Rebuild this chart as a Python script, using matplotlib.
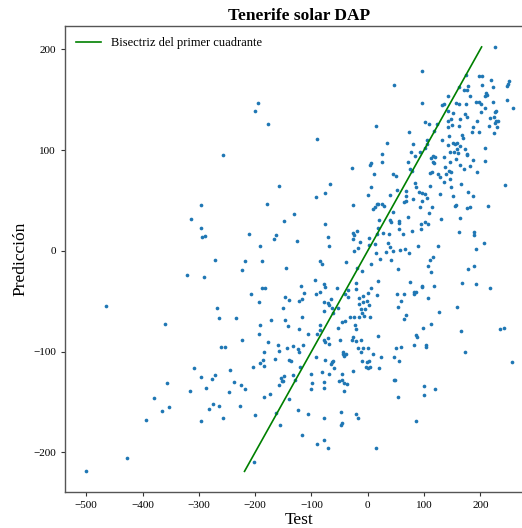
import matplotlib
matplotlib.use("Agg")
import matplotlib.pyplot as plt
import numpy as np

plt.rcParams['font.family'] = ['Liberation Serif', 'DejaVu Serif']
plt.rcParams['mathtext.fontset'] = 'stix'

title = "Tenerife solar DAP"
xlabel = "Test"
ylabel = "Predicción"
legend_label = "Bisectriz del primer cuadrante"
xticks = [-500, -400, -300, -200, -100, 0, 100, 200]
yticks = [-200, -100, 0, 100, 200]

# (test, prediction) pairs, grouped by region
pts_upper_left = [
    (-194.3, 147.0), (-200.8, 138.4), (-177.2, 125.5), (-90.7, 110.9), (-257.1, 94.7), (-27.3, 81.8),
]
pts_upper_right = [
    (225.4, 202.3), (96.9, 178.8), (46.0, 164.9), (174.5, 174.5), (198.2, 173.5), (203.5, 173.8),
    (218.3, 169.8), (250.9, 168.5), (249.1, 165.9), (246.8, 163.9), (161.5, 162.6), (177.5, 163.5),
    (203.5, 164.2), (221.9, 162.9), (171.6, 159.6), (175.7, 159.2), (142.5, 153.9), (181.6, 153.3),
    (210.0, 156.3), (208.3, 153.3), (211.8, 154.6), (248.0, 149.3), (96.9, 146.7), (132.5, 144.7),
    (135.4, 145.7), (156.8, 146.7), (161.5, 145.3), (174.5, 145.7), (192.9, 147.7), (198.2, 147.3),
    (200.6, 145.3), (221.9, 147.3), (258.0, 141.7), (208.9, 141.4), (142.5, 138.7), (152.0, 136.7),
    (201.8, 137.4), (228.4, 139.1), (225.4, 138.1), (173.3, 135.4), (176.3, 132.8), (148.5, 131.1),
    (216.6, 132.1), (223.7, 133.1), (141.9, 129.1), (164.5, 130.5), (194.7, 128.8), (227.2, 128.5),
    (230.8, 129.1), (226.0, 127.1), (101.1, 128.1), (109.4, 125.5), (122.4, 126.1), (149.7, 125.2),
    (143.1, 123.2), (162.7, 123.8), (187.0, 123.2), (216.0, 124.2), (229.6, 122.5), (14.0, 123.8),
    (117.1, 118.9), (185.8, 117.9), (198.2, 117.5), (223.7, 116.9), (73.8, 117.5), (143.7, 113.9),
    (168.0, 114.9), (169.8, 111.6), (132.5, 109.9), (105.8, 109.6), (105.2, 106.0), (33.6, 106.6),
    (81.0, 106.3), (151.4, 106.6), (155.0, 106.3), (158.5, 107.3), (142.5, 105.0), (163.9, 104.0),
    (208.9, 101.7), (101.1, 102.3), (172.7, 101.0), (157.9, 101.0), (146.7, 98.0), (153.2, 98.4),
    (159.7, 97.0), (76.2, 97.7), (92.8, 97.7), (176.3, 96.4), (176.9, 95.4), (25.9, 96.0),
    (83.9, 94.1), (115.3, 94.4), (118.9, 92.7), (111.7, 91.7), (134.8, 92.7), (156.8, 91.1),
    (187.5, 90.4), (208.9, 89.4), (25.9, 87.8), (72.1, 87.8), (115.3, 88.4), (117.7, 87.1),
    (146.7, 88.1), (5.2, 87.4), (4.6, 85.1), (163.9, 85.1), (181.6, 83.8), (137.2, 83.5),
    (75.0, 81.1), (79.2, 79.5), (171.0, 80.8), (11.7, 76.5), (44.2, 76.5), (50.2, 74.2),
    (114.1, 77.8), (111.2, 77.2), (125.4, 76.5), (143.7, 79.2), (147.3, 78.2), (193.5, 77.8),
    (128.3, 73.5), (139.6, 75.9), (146.1, 71.6),
]
pts_mid_left = [
    (-295.6, 45.7), (-314.0, 31.8), (-295.6, 22.2), (-294.4, 13.3), (-289.7, 14.6),
    (-320.5, -24.1), (-290.9, -26.4), (-465.0, -54.9), (-359.6, -72.7),
]
pts_mid_center = [
    (-157.0, 64.6), (-67.6, 66.2), (-92.5, 53.7), (-75.9, 57.6), (-178.3, 46.4), (-26.7, 45.7),
    (-131.6, 36.1), (-148.7, 29.5), (-75.9, 26.9), (-210.9, 16.9), (-162.4, 15.9), (-165.9, 11.3),
    (-125.6, 9.6), (-70.0, 13.9), (-68.8, 5.0), (-26.7, 17.3), (-24.4, 15.6), (-19.1, 19.2),
    (-26.7, 11.3), (-17.9, 3.0), (-24.4, -0.6), (-191.4, 5.0), (-271.9, -9.5), (-218.0, -9.9),
    (-188.4, -10.5), (-223.9, -19.1), (-145.2, -17.5), (-84.2, -10.2), (-81.2, -13.2), (-38.6, -11.2),
    (-18.5, -16.8), (-94.3, -29.4), (-118.0, -35.0), (-77.7, -33.4), (-76.5, -36.0), (-188.4, -37.3),
    (-182.5, -37.3), (-85.4, -41.3), (-92.5, -43.3), (-54.0, -36.7), (-21.4, -32.4), (-35.6, -39.0),
    (-20.8, -37.7), (-206.8, -42.6), (-113.2, -42.3), (-41.0, -43.3), (-146.4, -46.3), (-139.8, -48.6),
    (-116.8, -47.6), (-122.7, -50.2), (-64.6, -47.9), (-35.6, -46.3), (-15.5, -47.3), (-193.8, -50.9),
    (-77.1, -50.9), (-71.2, -52.2), (-68.2, -54.2), (-64.0, -56.5), (-52.8, -56.5), (-16.1, -52.9),
    (-267.8, -56.5), (-149.9, -56.5), (-77.1, -59.8), (-264.8, -66.5), (-234.6, -67.1), (-171.8, -69.1),
    (-147.5, -69.1), (-116.2, -66.1), (-61.1, -61.5), (-41.0, -69.4), (-45.1, -71.1), (-32.2, -65.5),
    (-24.4, -66.1), (-16.1, -66.1), (-192.0, -74.1), (-142.2, -75.1), (-122.7, -77.7), (-84.2, -74.1),
    (-84.8, -78.4), (-52.2, -76.4), (-22.6, -74.1), (-21.4, -78.0), (-193.8, -82.7), (-106.7, -82.3),
    (-89.5, -83.0),
]
pts_mid_right = [
    (5.2, 63.6), (83.3, 66.9), (134.8, 68.5), (110.6, 64.6), (147.9, 63.3), (165.0, 66.2),
    (243.2, 65.6), (-0.2, 55.0), (40.1, 55.6), (51.3, 60.3), (67.9, 59.3), (67.9, 54.3),
    (85.7, 62.9), (91.6, 58.3), (96.9, 57.0), (101.1, 56.3), (81.0, 51.7), (68.5, 49.7),
    (63.8, 48.4), (96.4, 49.0), (104.6, 52.0), (127.7, 56.0), (152.0, 54.6), (177.5, 58.3),
    (187.5, 54.3), (18.8, 46.7), (8.7, 41.1), (12.8, 43.7), (17.0, 46.0), (24.7, 46.0),
    (28.8, 44.1), (92.8, 43.4), (113.5, 43.7), (154.4, 44.1), (156.8, 45.0), (176.9, 42.1),
    (181.6, 43.7), (213.0, 44.7), (45.4, 38.4), (109.4, 37.4), (20.0, 30.5), (40.1, 30.8),
    (41.9, 28.5), (56.1, 29.5), (55.5, 27.5), (72.1, 33.8), (130.1, 31.8), (164.5, 32.8),
    (95.2, 26.9), (101.7, 28.2), (107.6, 26.5), (18.8, 22.9), (55.5, 21.9), (94.6, 21.2),
    (78.6, 19.9), (27.1, 17.9), (37.7, 16.3), (63.2, 16.6), (161.5, 18.2), (188.1, 18.2),
    (188.7, 15.9), (16.4, 16.3), (-13.8, 9.0), (2.8, 12.9), (1.6, 6.0), (12.3, 6.7),
    (35.4, 8.0), (40.1, 4.0), (88.6, 4.3), (124.8, 5.0), (206.5, 8.0), (192.9, 1.7),
    (14.0, -2.3), (32.4, -1.6), (45.4, -0.6), (57.3, 0.4), (65.6, 1.7), (73.8, -2.3),
    (22.3, -7.9), (41.9, -9.5), (110.0, -8.9), (116.5, -6.6), (6.3, -13.5), (107.0, -14.8),
    (188.7, -14.8), (53.7, -18.5), (111.7, -21.5), (177.5, -18.5), (-10.8, -19.8), (18.2, -30.4),
    (75.0, -31.1), (166.8, -31.7), (192.9, -33.0), (5.7, -36.7), (95.8, -35.0), (96.3, -36.3),
    (117.7, -35.4), (217.2, -37.0), (82.1, -40.7), (85.7, -40.7), (82.1, -43.3), (52.5, -43.3),
    (63.8, -43.0), (17.0, -44.0), (-0.2, -41.6), (-7.9, -45.0), (106.4, -46.6), (-0.8, -49.6),
    (-7.9, -50.9), (2.2, -54.2), (59.0, -49.9), (53.1, -55.5), (-12.6, -57.5), (-4.3, -58.2),
    (-10.8, -62.2), (-7.3, -64.8), (4.6, -65.8), (157.9, -55.5), (127.1, -61.2), (67.9, -63.5),
    (63.8, -67.5), (112.9, -72.4), (98.7, -76.7), (165.0, -79.7), (234.9, -78.0), (242.0, -77.0),
]
pts_low_left = [
    (-309.2, -116.0), (-296.8, -125.3), (-356.0, -130.9), (-316.3, -139.5), (-287.9, -136.2),
    (-379.7, -145.8), (-353.1, -154.7), (-364.9, -158.7), (-282.0, -156.7), (-393.9, -168.3),
    (-296.8, -169.0), (-427.1, -205.7), (-500.5, -218.9),
]
pts_low_center = [
    (-223.9, -88.9), (-177.2, -90.9), (-260.7, -95.8), (-254.1, -95.2), (-184.9, -100.1),
    (-159.4, -93.2), (-158.2, -99.2), (-142.8, -96.8), (-132.2, -94.9), (-123.9, -97.8),
    (-121.5, -100.1), (-115.0, -93.5), (-186.0, -108.4), (-190.8, -111.7), (-183.7, -114.4),
    (-165.3, -107.8), (-204.4, -115.0), (-139.3, -108.7), (-135.7, -109.4), (-120.9, -115.7),
    (-244.7, -118.0), (-271.3, -123.6), (-277.2, -126.9), (-149.3, -124.0), (-133.3, -123.3),
    (-153.5, -126.6), (-152.9, -128.9), (-149.9, -129.3), (-128.6, -128.3), (-237.0, -130.6),
    (-225.7, -132.9), (-157.0, -133.2), (-218.0, -137.2), (-246.4, -139.9), (-173.0, -142.5),
    (-183.7, -145.1), (-140.4, -147.1), (-274.9, -152.4), (-264.2, -154.4), (-227.5, -154.4),
    (-257.1, -166.0), (-200.8, -163.0), (-163.0, -161.0), (-124.5, -157.7), (-155.8, -172.9),
    (-117.4, -182.5), (-202.6, -209.3),
    (-91.9, -105.1), (-75.9, -108.7), (-64.0, -110.1), (-61.7, -109.1), (-60.5, -116.7),
    (-65.8, -112.7), (-80.6, -120.3), (-100.2, -122.3), (-68.8, -122.3), (-46.3, -122.0),
    (-25.6, -119.7), (-51.0, -129.3), (-46.3, -128.3), (-42.7, -131.6), (-36.2, -132.2),
    (-77.1, -129.9), (-98.4, -130.9), (-100.2, -137.2), (-77.7, -135.9), (-42.1, -139.2),
    (-77.1, -88.6), (-76.5, -90.9), (-71.2, -86.9), (-68.2, -92.9), (-49.2, -88.9),
    (-27.3, -88.2), (-25.6, -85.3), (-21.4, -89.2), (-44.5, -100.8), (-41.6, -104.4),
    (-38.0, -102.8), (-43.3, -102.1), (-17.3, -96.2), (-105.5, -162.4), (-78.3, -166.0),
    (-46.9, -160.0), (-21.4, -162.4), (-17.3, -165.7), (-45.1, -170.6), (-48.1, -172.6),
    (-90.7, -191.8), (-78.3, -188.2), (-70.6, -196.1),
]
pts_low_right = [
    (18.2, -84.3), (85.1, -84.0), (86.9, -85.3), (-12.0, -88.6), (-8.5, -96.2), (0.4, -96.8),
    (-11.4, -100.8), (9.9, -102.1), (22.9, -105.4), (50.7, -96.2), (58.5, -95.5), (82.1, -93.9),
    (102.9, -95.8), (104.0, -93.2), (173.3, -100.1), (46.6, -105.8), (56.1, -109.7), (-10.8, -109.7),
    (-2.0, -110.7), (1.6, -109.4), (-3.1, -115.0), (-0.2, -116.0), (4.0, -115.7), (20.0, -116.0),
    (255.6, -110.4), (46.6, -127.9), (49.0, -127.9), (99.3, -134.6), (120.0, -136.9), (53.1, -145.5),
    (99.3, -143.5), (86.3, -169.0), (15.2, -196.1),
]

all_pts = (pts_upper_left + pts_upper_right + pts_mid_left + pts_mid_center + pts_mid_right
           + pts_low_left + pts_low_center + pts_low_right)
y_test = [p[0] for p in all_pts]
y_pred = [p[1] for p in all_pts]

fig = plt.figure(figsize=(5.22, 5.28), dpi=100)
ax = fig.add_axes([0.1245, 0.0676, 0.8968, 0.8832])

ax.scatter(y_test, y_pred, s=7, color='#1f77b4', linewidths=0, zorder=2)
lo, hi = min(y_pred), max(y_pred)
ax.plot([lo, hi], [lo, hi], color='green', lw=1.2, label=legend_label, zorder=3)

ax.set_xlim(-537.8, 293.8)
ax.set_ylim(-239.7, 223.1)
ax.set_xticks(xticks)
ax.set_yticks(yticks)
ax.tick_params(labelsize=8, length=3, width=0.8, color='#333333')
for s in ax.spines.values():
    s.set_color('#555555')
    s.set_linewidth(1.0)

ax.set_title(title, fontsize=12.5, fontweight='bold', pad=4)
ax.set_xlabel(xlabel, fontsize=12.5, labelpad=1)
ax.set_ylabel(ylabel, fontsize=12.5, labelpad=3)
ax.legend(loc='upper left', frameon=False, fontsize=9, handlelength=2.0,
          borderaxespad=0.5, bbox_to_anchor=(0.0, 1.0))

fig.savefig("out.png", dpi=100)
